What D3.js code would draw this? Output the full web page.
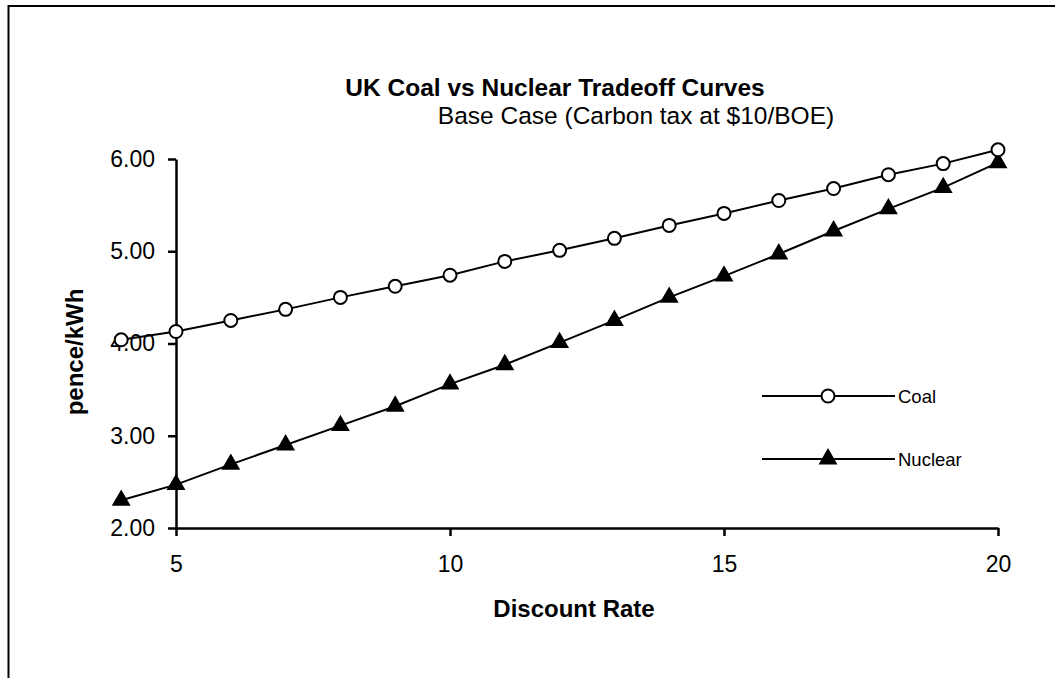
<!DOCTYPE html>
<html>
<head>
<meta charset="utf-8">
<script src="https://cdn.jsdelivr.net/npm/d3@7"></script>
<style>
  body { margin: 0; background: #fff; }
  text { font-family: "Liberation Sans", Arial, sans-serif; fill: #000; }
  .axis path, .axis line { stroke: #000; stroke-width: 2.5; }
  .axis text { font-size: 23px; }
  .line { fill: none; stroke: #000; stroke-width: 2; }
</style>
</head>
<body>
<div id="chart"></div>
<script>
// values
const rates = [4, 5, 6, 7, 8, 9, 10, 11, 12, 13, 14, 15, 16, 17, 18, 19, 20];
const coal = [4.04, 4.13, 4.25, 4.37, 4.50, 4.62, 4.74, 4.89, 5.01, 5.14, 5.28, 5.41, 5.55, 5.68, 5.83, 5.95, 6.10];
const nuclear = [2.30, 2.47, 2.69, 2.90, 3.11, 3.32, 3.56, 3.77, 4.01, 4.25, 4.50, 4.73, 4.97, 5.22, 5.46, 5.69, 5.96];
const xTicks = [5, 10, 15, 20];
const yTicks = [2, 3, 4, 5, 6];
const seriesNames = ["Coal", "Nuclear"];

const W = 1055, H = 678;

const svg = d3.select("#chart").append("svg")
    .attr("width", W)
    .attr("height", H);

// outer frame (runs off the right and bottom edges)
svg.append("rect")
    .attr("x", 8.5).attr("y", 6)
    .attr("width", W + 20).attr("height", H + 20)
    .attr("fill", "none")
    .attr("stroke", "#000")
    .attr("stroke-width", 2);

const x = d3.scaleLinear().domain([5, 20]).range([176, 998]);
const y = d3.scaleLinear().domain([2, 6]).range([528, 159]);

svg.append("g")
    .attr("class", "axis")
    .attr("transform", "translate(0,528)")
    .call(d3.axisBottom(x).tickValues(xTicks).tickSize(8).tickSizeOuter(0).tickPadding(20).tickFormat(d3.format("d")));

svg.append("g")
    .attr("class", "axis")
    .attr("transform", "translate(176,0)")
    .call(d3.axisLeft(y).tickValues(yTicks).tickSize(8).tickSizeOuter(0).tickPadding(13).tickFormat(d3.format(".2f")));

const coalData = rates.map((r, i) => ({x: r, y: coal[i]}));
const nucData = rates.map((r, i) => ({x: r, y: nuclear[i]}));

const line = d3.line().x(d => x(d.x)).y(d => y(d.y));

svg.append("path").datum(nucData).attr("class", "line").attr("d", line);
svg.append("path").datum(coalData).attr("class", "line").attr("d", line);

const tri = d3.symbol().type(d3.symbolTriangle).size(155);

svg.selectAll(".tri").data(nucData).enter()
    .append("path")
    .attr("class", "tri")
    .attr("d", tri)
    .attr("transform", d => "translate(" + x(d.x) + "," + y(d.y) + ")")
    .attr("fill", "#000");

svg.selectAll(".dot").data(coalData).enter()
    .append("circle")
    .attr("class", "dot")
    .attr("cx", d => x(d.x))
    .attr("cy", d => y(d.y))
    .attr("r", 6.5)
    .attr("fill", "#fff")
    .attr("stroke", "#000")
    .attr("stroke-width", 2);

// titles
svg.append("text")
    .attr("x", 555).attr("y", 96)
    .attr("text-anchor", "middle")
    .style("font-size", "24.5px").style("font-weight", "bold")
    .text("UK Coal vs Nuclear Tradeoff Curves");

svg.append("text")
    .attr("x", 636).attr("y", 124)
    .attr("text-anchor", "middle")
    .style("font-size", "24.5px")
    .text("Base Case (Carbon tax at $10/BOE)");

svg.append("text")
    .attr("x", 574).attr("y", 617)
    .attr("text-anchor", "middle")
    .style("font-size", "24px").style("font-weight", "bold")
    .text("Discount Rate");

svg.append("text")
    .attr("transform", "translate(83,352) rotate(-90)")
    .attr("text-anchor", "middle")
    .style("font-size", "24px").style("font-weight", "bold")
    .text("pence/kWh");

// legend
const legend = svg.append("g");
const legY = [396, 459];
seriesNames.forEach((name, i) => {
    const g = legend.append("g").attr("transform", "translate(0," + legY[i] + ")");
    g.append("line").attr("x1", 762).attr("x2", 895).attr("y1", 0).attr("y2", 0)
        .attr("stroke", "#000").attr("stroke-width", 2);
    if (i === 0) {
        g.append("circle").attr("cx", 828).attr("cy", 0).attr("r", 6.5)
            .attr("fill", "#fff").attr("stroke", "#000").attr("stroke-width", 2);
    } else {
        g.append("path").attr("d", tri).attr("transform", "translate(828,0)").attr("fill", "#000");
    }
    g.append("text").attr("x", 898).attr("y", 6.5)
        .style("font-size", "18.5px")
        .text(name);
});
</script>
</body>
</html>
